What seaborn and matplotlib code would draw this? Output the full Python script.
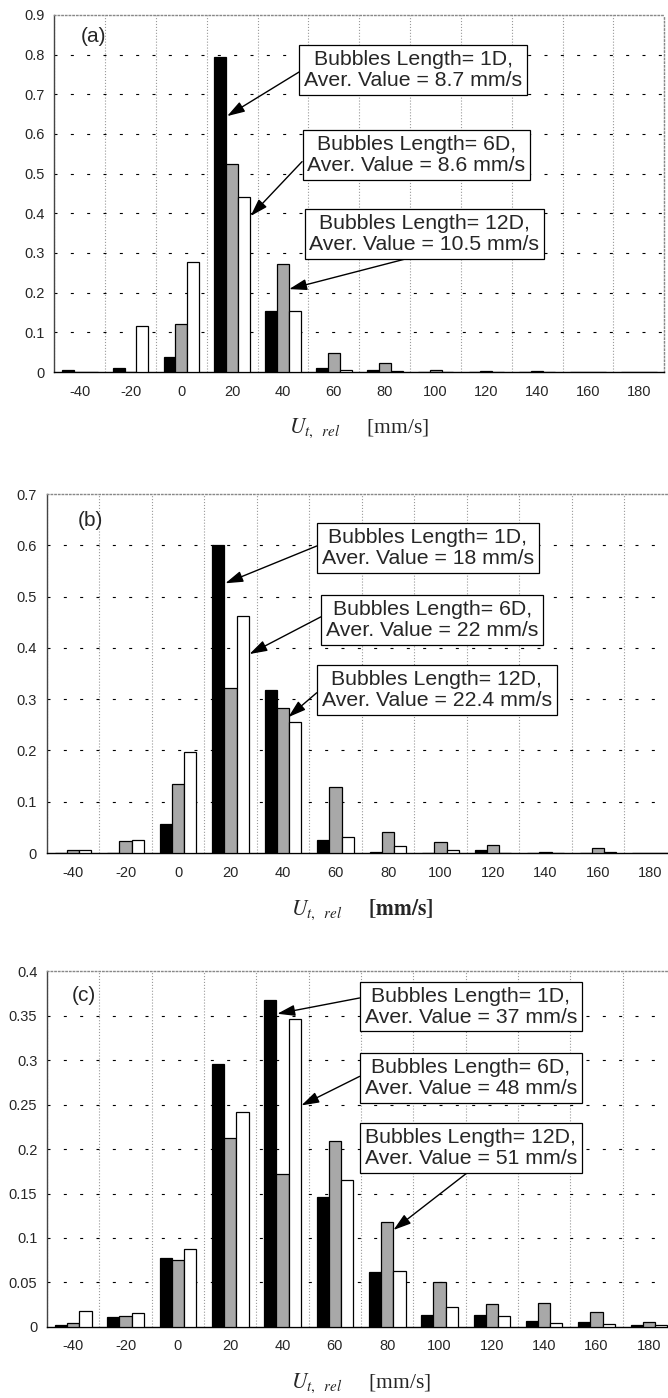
import numpy as np
import pandas as pd
import matplotlib.pyplot as plt
import seaborn as sns
from matplotlib.ticker import FixedLocator, FuncFormatter

sns.set_style('white')
plt.rcParams['font.family'] = ['Liberation Sans', 'DejaVu Sans']
plt.rcParams['mathtext.fontset'] = 'stix'

# velocity classes [mm/s]
cats = ['-40', '-20', '0', '20', '40', '60', '80', '100', '120', '140', '160', '180']
lengths = ['1D', '6D', '12D']

# (a)
a_1d = [0.006, 0.011, 0.038, 0.794, 0.154, 0.011, 0.006, 0.0, 0.0, 0.0, 0.0, 0.0]
a_6d = [0.0, 0.0, 0.12, 0.525, 0.272, 0.049, 0.022, 0.005, 0.002, 0.002, 0.0, 0.0]
a_12d = [0.0, 0.115, 0.278, 0.442, 0.154, 0.006, 0.003, 0.0, 0.0, 0.0, 0.0, 0.0]
a_aver = ['8.7', '8.6', '10.5']

# (b)
b_1d = [0.0, 0.0, 0.057, 0.6, 0.318, 0.026, 0.002, 0.0, 0.005, 0.0, 0.0, 0.0]
b_6d = [0.006, 0.023, 0.134, 0.321, 0.282, 0.128, 0.042, 0.021, 0.015, 0.002, 0.009, 0.0]
b_12d = [0.006, 0.026, 0.198, 0.462, 0.256, 0.032, 0.013, 0.005, 0.0, 0.0, 0.002, 0.0]
b_aver = ['18', '22', '22.4']

# (c)
c_1d = [0.0026, 0.0112, 0.0775, 0.295, 0.3675, 0.1456, 0.0617, 0.013, 0.013, 0.0071, 0.006, 0.0022]
c_6d = [0.0045, 0.012, 0.0748, 0.212, 0.172, 0.2088, 0.1175, 0.05, 0.0258, 0.027, 0.0165, 0.0056]
c_12d = [0.0176, 0.016, 0.088, 0.242, 0.346, 0.1654, 0.063, 0.0225, 0.0127, 0.0045, 0.0034, 0.0022]
c_aver = ['37', '48', '51']

fig = plt.figure(figsize=(6.68, 13.98), dpi=100)

panels = [
    dict(tag='(a)', data=(a_1d, a_6d, a_12d), aver=a_aver, ymax=0.9, ystep=0.1,
         rect=[0.0813, 0.7339, 0.9132, 0.2554], tagpos=(0.043, 0.94),
         boxes=[(6.56, 0.761), (6.62, 0.547), (6.78, 0.348)],
         tips=[(2.9, 0.645), (3.36, 0.393), (4.12, 0.209)],
         rel=[(0, 0.53), (0, 0.47), (0.5, 0)], bold=False),
    dict(tag='(b)', data=(b_1d, b_6d, b_12d), aver=b_aver, ymax=0.7, ystep=0.1,
         rect=[0.0701, 0.3898, 0.9431, 0.2568], tagpos=(0.049, 0.925),
         boxes=[(6.76, 0.595), (6.84, 0.454), (6.93, 0.318)],
         tips=[(2.9, 0.526), (3.36, 0.388), (4.1, 0.265)],
         rel=[(0, 0.6), (0, 0.65), (0, 0.54)], bold=True),
    dict(tag='(c)', data=(c_1d, c_6d, c_12d), aver=c_aver, ymax=0.4, ystep=0.05,
         rect=[0.0704, 0.0508, 0.9401, 0.2546], tagpos=(0.04, 0.93),
         boxes=[(7.6, 0.36), (7.6, 0.28), (7.6, 0.201)],
         tips=[(3.9, 0.352), (4.36, 0.249), (6.12, 0.109)],
         rel=[(0, 0.74), (0, 0.6), (0.51, 0)], bold=False),
]

for p in panels:
    ax = fig.add_axes(p['rect'])
    v1, v6, v12 = p['data']
    df = pd.DataFrame({'u': cats * 3,
                       'p': list(v1) + list(v6) + list(v12),
                       'len': ['1D'] * 12 + ['6D'] * 12 + ['12D'] * 12})
    sns.barplot(data=df, x='u', y='p', hue='len', order=cats, hue_order=lengths,
                palette=['black', '#a8a8a8', 'white'], saturation=1,
                edgecolor='black', linewidth=0.9, width=0.7, gap=0,
                legend=False, ax=ax, zorder=3)

    ax.set_xlim(-0.5, 11.5)
    ax.set_ylim(0, p['ymax'])
    yt = np.round(np.arange(0, p['ymax'] + 1e-9, p['ystep']), 3)
    ax.set_yticks(yt)
    ax.yaxis.set_major_formatter(FuncFormatter(lambda v, pos: '{:g}'.format(round(v, 3))))
    ax.set_ylabel('')

    ax.xaxis.set_minor_locator(FixedLocator(np.arange(-0.5, 12, 1)))
    ax.tick_params(axis='x', which='major', length=0, labelsize=10.5, pad=9)
    ax.tick_params(axis='x', which='minor', length=4, width=0.8, direction='out', color='black')
    ax.tick_params(axis='y', which='major', length=4, width=0.8, direction='out',
                   color='black', labelsize=10.5, pad=3)

    ax.set_axisbelow(True)
    ax.yaxis.grid(True, which='major', color='black', lw=0.8, linestyle=(0, (2.7, 12)))
    gl = ax.get_ygridlines()
    gl[0].set_visible(False)
    gl[-1].set_visible(False)
    ax.xaxis.grid(True, which='minor', color='#999999', lw=0.8, linestyle=':')
    ax.xaxis.grid(False, which='major')

    for s in ['top', 'right']:
        ax.spines[s].set_color('#888888')
        ax.spines[s].set_linestyle(':')
        ax.spines[s].set_linewidth(1.0)
    ax.spines['left'].set_color('#444444')
    ax.spines['left'].set_linewidth(1.0)
    ax.spines['bottom'].set_color('black')
    ax.spines['bottom'].set_linewidth(1.0)

    unit = r'$\mathbf{[mm/s]}$' if p['bold'] else '[mm/s]'
    ax.set_xlabel(r'$U_{t,\ \ rel}$' + '     ' + unit, fontsize=15.5,
                  family=['Liberation Serif', 'DejaVu Serif'])
    ax.xaxis.label.set_va('center')
    ax.xaxis.set_label_coords(0.5, -0.157)

    ax.text(p['tagpos'][0], p['tagpos'][1], p['tag'], transform=ax.transAxes,
            fontsize=15, ha='left', va='center')

    for k in range(3):
        txt = 'Bubbles Length= {},\nAver. Value = {} mm/s'.format(lengths[k], p['aver'][k])
        ax.annotate(txt, xy=p['tips'][k], xytext=p['boxes'][k],
                    ha='center', va='center', fontsize=15.3, linespacing=1.15,
                    bbox=dict(boxstyle='square,pad=0.22', fc='white', ec='black', lw=0.9),
                    arrowprops=dict(arrowstyle='-|>,head_length=0.7,head_width=0.22',
                                    color='black', lw=1.0, relpos=p['rel'][k],
                                    shrinkA=0, shrinkB=0),
                    zorder=5)

fig.savefig('out.png', dpi=100)
